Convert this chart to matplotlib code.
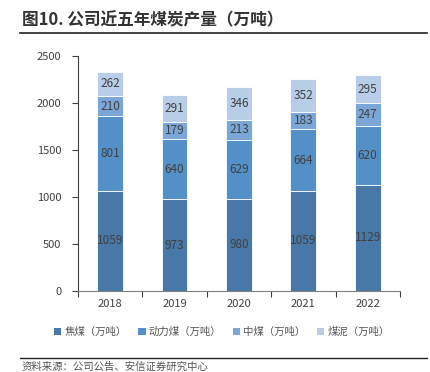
import matplotlib
matplotlib.use("Agg")
import matplotlib.pyplot as plt
from matplotlib.patches import Patch
import numpy as np

plt.rcParams['font.family'] = ['Noto Sans CJK SC', 'DejaVu Sans']

years = ['2018', '2019', '2020', '2021', '2022']
coking = [1059, 973, 980, 1059, 1129]
thermal = [801, 640, 629, 664, 620]
middling = [210, 179, 213, 183, 247]
slime = [262, 291, 346, 352, 295]
series_names = ['焦煤（万吨）', '动力煤（万吨）', '中煤（万吨）', '煤泥（万吨）']
colors = ['#4878a8', '#5490c8', '#7ba7d8', '#b8cde8']

fig = plt.figure(figsize=(4.3, 3.72), dpi=100)
ax = fig.add_axes([0.1814, 0.2185, 0.7486, 0.6315])

x = np.arange(len(years))
bottom = np.zeros(len(years))
for vals, c in zip([coking, thermal, middling, slime], colors):
    ax.bar(x, vals, 0.4, bottom=bottom, color=c, edgecolor='white', linewidth=0.6)
    for xi, b, v in zip(x, bottom, vals):
        ax.text(xi, b + v / 2, str(v), ha='center', va='center', fontsize=8.5, color='#404040')
    bottom += np.array(vals)

ax.set_xlim(-0.5, len(years) - 0.5)
ax.set_ylim(0, 2500)
ax.set_yticks(range(0, 2501, 500))
ax.set_xticks(x)
ax.set_xticklabels(years)
ax.set_xticks(np.arange(-0.5, len(years), 1), minor=True)
ax.tick_params(axis='x', which='major', length=0, labelsize=8, colors='#404040', pad=6)
ax.tick_params(axis='x', which='minor', length=4, direction='out', color='#404040', width=0.8)
ax.tick_params(axis='y', length=4, direction='out', labelsize=8, colors='#404040', pad=8)
ax.tick_params(axis='y', color='#404040')
for s in ['top', 'right']:
    ax.spines[s].set_visible(False)
ax.spines['left'].set_color('#404040')
ax.spines['bottom'].set_color('#808080')
ax.spines['left'].set_linewidth(0.8)
ax.spines['bottom'].set_linewidth(0.8)

handles = [Patch(facecolor=c, edgecolor='none') for c in colors]
fig.legend(handles, series_names, loc='center', bbox_to_anchor=(0.516, 0.107), ncol=4,
           frameon=False, fontsize=7.5, handlelength=0.7, handleheight=0.7,
           handletextpad=0.3, columnspacing=1.1, labelcolor='#555555')

fig.text(0.05, 0.945, '图10. 公司近五年煤炭产量（万吨）', fontsize=12, fontweight='bold',
         color='#333333', va='center', ha='left')
fig.add_artist(plt.Line2D([0.047, 0.993], [0.91, 0.91], color='#222222', linewidth=1.2))
fig.add_artist(plt.Line2D([0.047, 0.993], [0.037, 0.037], color='#222222', linewidth=1.0))
fig.text(0.05, 0.013, '资料来源：公司公告、安信证券研究中心', fontsize=7.5, style='italic',
         color='#555555', va='center', ha='left')

fig.savefig('out.png', dpi=100)
